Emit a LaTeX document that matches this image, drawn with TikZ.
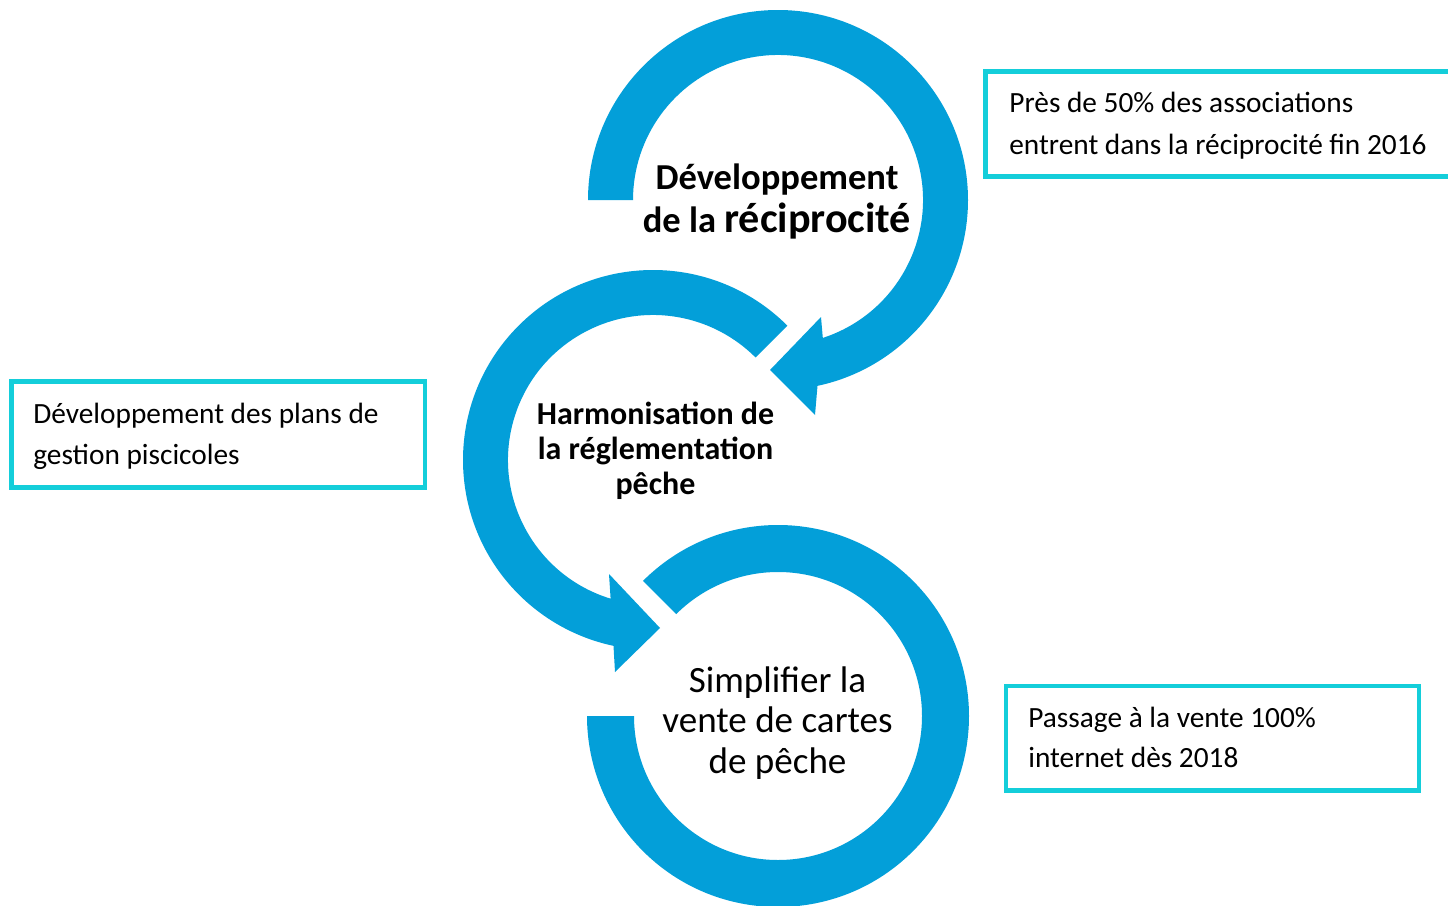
\documentclass[tikz,border=0pt]{standalone}
\usepackage{fontspec}
\setmainfont{Carlito}
\usetikzlibrary{calc}
\definecolor{ringblue}{RGB}{3,159,217}
\definecolor{boxcyan}{RGB}{20,206,218}
\begin{document}
\begin{tikzpicture}[x=0.02cm,y=0.02cm,
  ring/.style={fill=ringblue},
  infobox/.style={draw=boxcyan,line width=2.8pt},
  boxtext/.style={anchor=base west,align=left,inner sep=0pt},
  ringtext/.style={anchor=base,align=center,inner sep=0pt}]
\useasboundingbox (0,0) rectangle (1448,-906);
\clip (0,0) rectangle (1448,-906);
\coordinate (c1) at (778,-200);
\coordinate (c2) at (653,-460);
\coordinate (c3) at (778,-716);
% rings
\fill[ring] ($(c1)+(180:190)$) arc[start angle=180,end angle=-78,radius=190]
  -- (815,-415) -- (770,-370) -- (821,-317)
  -- ($(c1)+(-72:145)$) arc[start angle=-72,end angle=180,radius=145] -- cycle;
\fill[ring] ($(c2)+(45:190)$) arc[start angle=45,end angle=258,radius=190]
  -- (615,-672) -- (660,-628) -- (609,-574)
  -- ($(c2)+(253:145)$) arc[start angle=253,end angle=45,radius=145] -- cycle;
\fill[ring] ($(c3)+(135:191)$) arc[start angle=135,end angle=-180,radius=191]
  -- ($(c3)+(-180:144)$) arc[start angle=-180,end angle=135,radius=144] -- cycle;
% ring texts (anchored at the baseline of the last line)
\node[ringtext,font=\bfseries\fontsize{20.8}{24.4}\selectfont] (recip) at (777,-232)
  {Développement\\de la {\fontsize{24}{24.4}\selectfont réciprocité}};
\node[ringtext,font=\bfseries\fontsize{18.2}{19.8}\selectfont] (harmo) at (655.5,-494.3)
  {Harmonisation de\\la réglementation\\pêche};
\node[ringtext,font=\fontsize{21.1}{23}\selectfont] (simpl) at (777.5,-773.2)
  {Simplifier la\\vente de cartes\\de pêche};
% info boxes
\draw[infobox] (985.5,-71.5) rectangle (1460,-176.5);
\draw[infobox] (11.5,-381.5) rectangle (425,-487.5);
\draw[infobox] (1006,-686) rectangle (1419,-790.5);
\node[boxtext,font=\fontsize{16.7}{23.6}\selectfont] (info1) at (1009,-154.3)
  {Près de 50\% des associations\\entrent dans la réciprocité fin 2016};
\node[boxtext,font=\fontsize{16.7}{23.2}\selectfont] (info2) at (33,-464.7)
  {Développement des plans de\\gestion piscicoles};
\node[boxtext,font=\fontsize{16.7}{22.7}\selectfont] (info3) at (1028,-767.5)
  {Passage à la vente 100\%\\internet dès 2018};
\end{tikzpicture}
\end{document}
